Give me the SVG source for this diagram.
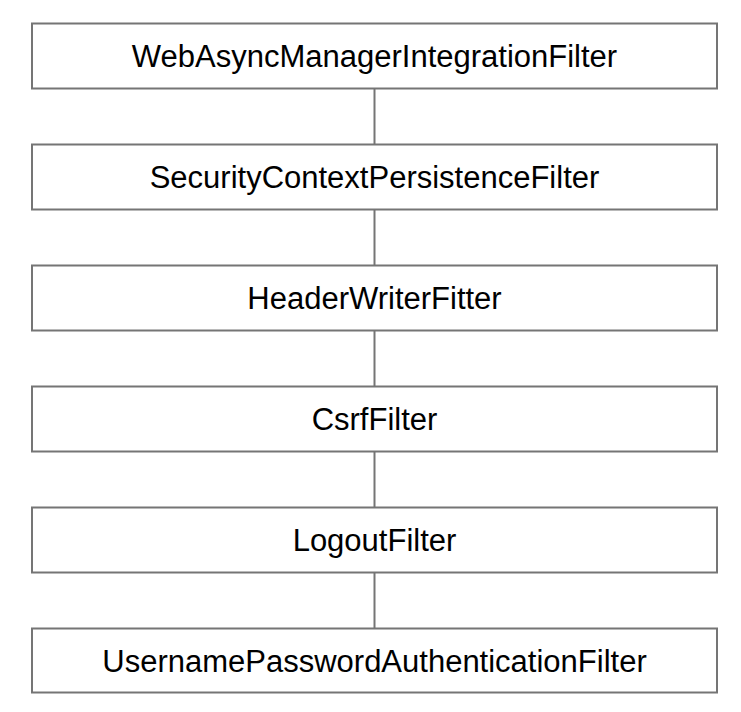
<svg xmlns="http://www.w3.org/2000/svg" width="741" height="712" viewBox="0 0 741 712">
  <style>
    .box { fill: #ffffff; stroke: #757575; stroke-width: 2; }
    .label { font-family: "Liberation Sans", Arial, sans-serif; font-size: 31px; fill: #000000; text-anchor: middle; dominant-baseline: central; }
    .link { stroke: #757575; stroke-width: 2; fill: none; }
  </style>
  <rect width="741" height="712" fill="#ffffff"/>
  <g id="connectors">
    <line class="link" x1="374.5" y1="88.5" x2="374.5" y2="144.5"/>
    <line class="link" x1="374.5" y1="209.5" x2="374.5" y2="265.5"/>
    <line class="link" x1="374.5" y1="330.5" x2="374.5" y2="386.5"/>
    <line class="link" x1="374.5" y1="451.5" x2="374.5" y2="507.5"/>
    <line class="link" x1="374.5" y1="572.5" x2="374.5" y2="628.5"/>
  </g>
  <g id="webAsyncManagerIntegrationFilter">
    <rect class="box" x="32" y="23.5" width="685" height="65"/>
    <text class="label" x="374.5" y="56">WebAsyncManagerIntegrationFilter</text>
  </g>
  <g id="securityContextPersistenceFilter">
    <rect class="box" x="32" y="144.5" width="685" height="65"/>
    <text class="label" x="374.5" y="177">SecurityContextPersistenceFilter</text>
  </g>
  <g id="headerWriterFitter">
    <rect class="box" x="32" y="265.5" width="685" height="65"/>
    <text class="label" x="374.5" y="298">HeaderWriterFitter</text>
  </g>
  <g id="csrfFilter">
    <rect class="box" x="32" y="386.5" width="685" height="65"/>
    <text class="label" x="374.5" y="419">CsrfFilter</text>
  </g>
  <g id="logoutFilter">
    <rect class="box" x="32" y="507.5" width="685" height="65"/>
    <text class="label" x="374.5" y="540">LogoutFilter</text>
  </g>
  <g id="usernamePasswordAuthenticationFilter">
    <rect class="box" x="32" y="628.5" width="685" height="64"/>
    <text class="label" x="374.5" y="661">UsernamePasswordAuthenticationFilter</text>
  </g>
</svg>
